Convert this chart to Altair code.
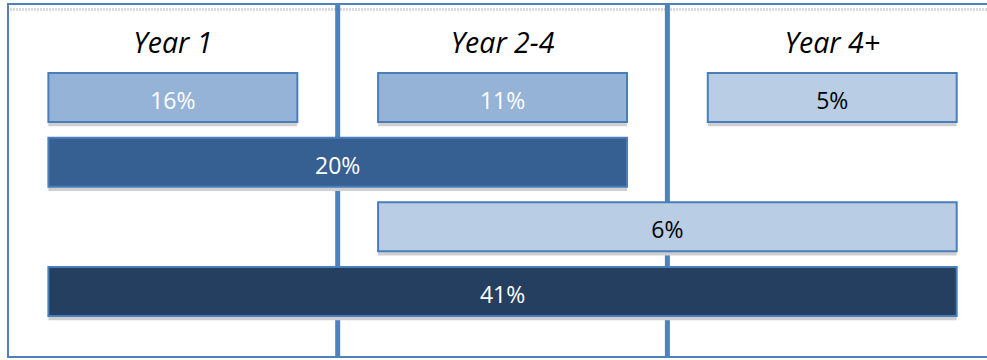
import altair as alt
import pandas as pd

# ---- data ----
headers = ["Year 1", "Year 2-4", "Year 4+"]
header_cols = [0, 1, 2]

labels = ["16%", "11%", "5%", "20%", "6%", "41%"]
values = [16, 11, 5, 20, 6, 41]
start_col = [0, 1, 2, 0, 1, 0]
end_col = [1, 2, 3, 2, 3, 3]
row = [1, 1, 1, 2, 3, 4]
tone = ["mid", "mid", "light", "dark", "light", "darkest"]

dividers = [1, 2]

bars = pd.DataFrame({
    "label": labels, "value": values, "start": start_col, "end": end_col,
    "row": row, "tone": tone,
})
head = pd.DataFrame({"header": headers, "col": header_cols, "row": [0, 0, 0]})
div = pd.DataFrame({"col": dividers})

W, H = 987, 360
PAD = 0.1225    # horizontal inset of bars inside a column (style)
HALF = 0.379    # half bar height in row units (style)

xs = alt.Scale(domain=[-0.02426, 2.9694], range=[0, W], nice=False, zero=False)
ys = alt.Scale(domain=[-0.5077, 5.059], range=[0, H], nice=False, zero=False)

tone_scale = alt.Scale(domain=["mid", "light", "dark", "darkest"],
                       range=["#95B3D7", "#B9CDE5", "#376092", "#243F60"])
text_scale = alt.Scale(domain=["mid", "light", "dark", "darkest"],
                       range=["#FFFFFF", "#000000", "#FFFFFF", "#FFFFFF"])

base = alt.Chart(bars).transform_calculate(
    x1=f"datum.start + {PAD}", x2=f"datum.end - {PAD}",
    y1=f"datum.row - {HALF}", y2=f"datum.row + {HALF}",
    sy1=f"datum.row + {HALF}", sy2=f"datum.row + {HALF} + 0.065",
    xm="(datum.start + datum.end) / 2",
)

# dividers
div_rules = alt.Chart(div).mark_rule(color="#4F81BD", strokeWidth=5).encode(
    x=alt.X("col:Q", scale=xs, axis=None),
    y=alt.value(4), y2=alt.value(357),
)

# frame
frame = alt.Chart(head).mark_rect(fill=None, stroke="#4F81BD", strokeWidth=2).encode(
    x=alt.value(8), x2=alt.value(1000), y=alt.value(4), y2=alt.value(357),
)
top_shadow = alt.Chart(head).mark_rule(color="#D6D6D6", strokeWidth=2, strokeDash=[2, 1]).encode(
    x=alt.value(10), x2=alt.value(W), y=alt.value(9.5),
)

shadows = base.mark_rect(color="#CFCFCF").encode(
    x=alt.X("x1:Q", scale=xs, axis=None), x2="x2:Q",
    y=alt.Y("sy1:Q", scale=ys, axis=None), y2="sy2:Q",
)

rects = base.mark_rect(stroke="#4A7EBB", strokeWidth=2).encode(
    x=alt.X("x1:Q", scale=xs, axis=None), x2="x2:Q",
    y=alt.Y("y1:Q", scale=ys, axis=None), y2="y2:Q",
    color=alt.Color("tone:N", scale=tone_scale, legend=None),
)

texts = base.mark_text(font="Open Sans", fontSize=23, baseline="alphabetic", dy=11.5).encode(
    x=alt.X("xm:Q", scale=xs, axis=None),
    y=alt.Y("row:Q", scale=ys, axis=None),
    text="label:N",
    color=alt.Color("tone:N", scale=text_scale, legend=None),
)

head_text = alt.Chart(head).transform_calculate(xm="datum.col + 0.5").mark_text(
    font="Open Sans", fontSize=28.5, fontStyle="italic", baseline="alphabetic", dy=20, color="#000000"
).encode(
    x=alt.X("xm:Q", scale=xs, axis=None),
    y=alt.Y("row:Q", scale=ys, axis=None),
    text="header:N",
)

chart = alt.layer(
    top_shadow, div_rules, shadows, rects, texts, head_text, frame
).resolve_scale(color="independent").properties(
    width=W, height=H, padding=0, autosize=alt.AutoSizeParams(type="none"),
    background="#FFFFFF",
).configure_view(stroke=None)

chart.save("out.html", embed_options={"renderer": "svg", "actions": False})
